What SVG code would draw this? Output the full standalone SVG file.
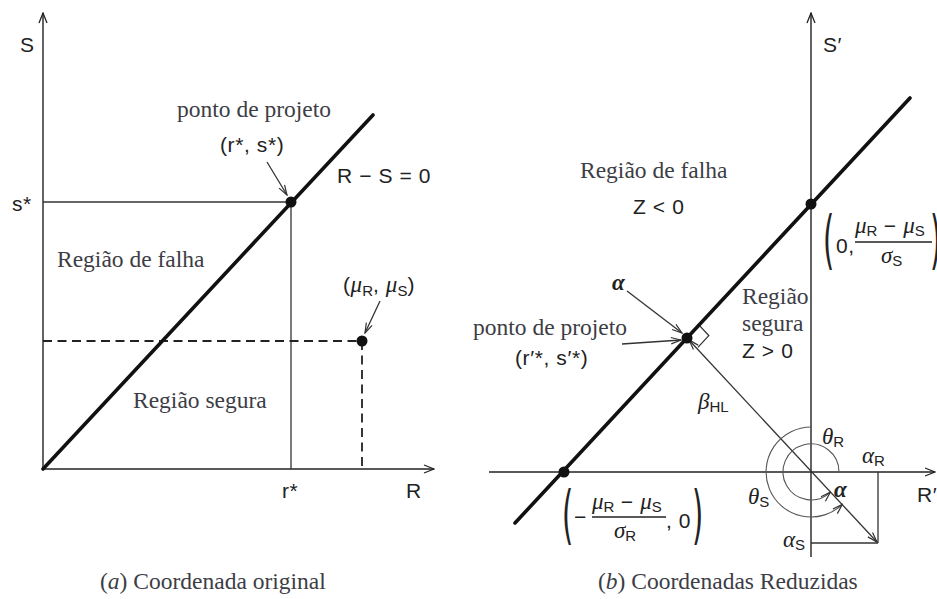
<svg xmlns="http://www.w3.org/2000/svg" width="937" height="599" viewBox="0 0 937 599">
<defs>
<marker id="axArrow" viewBox="0 0 12 10" refX="11" refY="5" markerWidth="12" markerHeight="10" orient="auto" markerUnits="userSpaceOnUse"><path d="M1,1 L11,5 L1,9" fill="none" stroke="#222" stroke-width="1.3"/></marker>
<marker id="ptr" viewBox="0 0 12 8" refX="11" refY="4" markerWidth="12" markerHeight="8" orient="auto" markerUnits="userSpaceOnUse"><path d="M1,0.8 L11,4 L1,7.2" fill="none" stroke="#333" stroke-width="1.2"/></marker>
<marker id="ptrStart" viewBox="0 0 12 8" refX="1" refY="4" markerWidth="12" markerHeight="8" orient="auto" markerUnits="userSpaceOnUse"><path d="M11,0.8 L1,4 L11,7.2" fill="none" stroke="#333" stroke-width="1.2"/></marker>
</defs>
<style>
.axis{stroke:#222;stroke-width:1.4;fill:none}
.thick{stroke:#111;stroke-width:3.6;fill:none;stroke-linecap:round}
.thin{stroke:#333;stroke-width:1.3;fill:none}
.dash{stroke:#222;stroke-width:1.8;fill:none;stroke-dasharray:9 5.5}
.arc{stroke:#555;stroke-width:1.1;fill:none}
.dot{fill:#111}
.serif{font-family:"Liberation Serif","Times New Roman",serif;font-size:23.5px;fill:#3d3d45}
.sans{font-family:"Liberation Sans",Arial,sans-serif;font-size:21px;letter-spacing:0.6px;fill:#222}
.greek{font-family:"Liberation Serif","Times New Roman",serif;font-style:italic;font-size:23px;letter-spacing:0;fill:#222}
.sub{font-family:"Liberation Sans",Arial,sans-serif;font-size:15px;letter-spacing:0;fill:#222}
.paren{font-family:"DejaVu Sans",sans-serif;font-size:64px;fill:#222}
.cap{font-family:"Liberation Serif","Times New Roman",serif;font-size:23.5px;fill:#3d3d45}
</style>

<!-- ============ Panel (a) ============ -->
<g id="panel-a-axes">
  <line class="axis" x1="43" y1="469" x2="43" y2="13" marker-end="url(#axArrow)"/>
  <line class="axis" x1="43" y1="469" x2="434" y2="469" marker-end="url(#axArrow)"/>
  <text class="sans" x="20" y="52">S</text>
  <text class="sans" x="406" y="498">R</text>
</g>
<g id="panel-a-connectors">
  <line class="thin" x1="43" y1="202" x2="291" y2="202"/>
  <line class="thin" x1="291" y1="202" x2="291" y2="469"/>
  <line class="dash" x1="43" y1="341" x2="362" y2="341"/>
  <line class="dash" x1="362" y1="341" x2="362" y2="469"/>
  <line class="thin" x1="267" y1="162" x2="287" y2="195" marker-end="url(#ptr)"/>
  <line class="thin" x1="380" y1="301" x2="365" y2="333" marker-end="url(#ptr)"/>
</g>
<g id="panel-a-limit-state">
  <line class="thick" x1="43" y1="469" x2="373" y2="115"/>
  <text class="sans" x="337" y="183">R − S = 0</text>
</g>
<g id="panel-a-design-point">
  <circle class="dot" cx="291" cy="202" r="5.5"/>
  <text class="serif" x="177" y="117">ponto de projeto</text>
  <text class="sans" x="220" y="152">(r*, s*)</text>
</g>
<g id="panel-a-mean-point">
  <circle class="dot" cx="362" cy="341" r="5.5"/>
  <text class="sans" x="343" y="292">(<tspan class="greek">μ</tspan><tspan class="sub" dy="4">R</tspan><tspan dy="-4">, </tspan><tspan class="greek">μ</tspan><tspan class="sub" dy="4">S</tspan><tspan dy="-4">)</tspan></text>
</g>
<g id="panel-a-ticks">
  <text class="sans" x="12" y="211">s*</text>
  <text class="sans" x="282" y="498">r*</text>
</g>
<g id="panel-a-regions">
  <text class="serif" x="57" y="267">Região de falha</text>
  <text class="serif" x="133" y="408">Região segura</text>
</g>
<g id="caption-a">
  <text class="cap" x="100" y="589">(<tspan font-style="italic">a</tspan>) Coordenada original</text>
</g>

<!-- ============ Panel (b) ============ -->
<g id="panel-b-axes">
  <line class="axis" x1="811" y1="557" x2="811" y2="13" marker-end="url(#axArrow)"/>
  <line class="axis" x1="489" y1="472" x2="935" y2="472" marker-end="url(#axArrow)"/>
  <text class="sans" x="823" y="52">S′</text>
  <text class="sans" x="917" y="502">R′</text>
</g>
<g id="panel-b-connectors">
  <line class="thin" x1="689" y1="340" x2="877" y2="542" stroke-width="1.6" marker-end="url(#ptr)" marker-start="url(#ptrStart)"/>
  <line class="thin" x1="878" y1="472" x2="878" y2="543"/>
  <line class="thin" x1="811" y1="543" x2="878" y2="543"/>
  <path class="thin" d="M697.9,323.9 L708.8,335.6 L697.9,347.4"/>
  <line class="thin" x1="627" y1="291" x2="682" y2="333" marker-end="url(#ptr)"/>
  <line class="thin" x1="622" y1="344" x2="681" y2="340" marker-end="url(#ptr)"/>
  <path class="arc" d="M811,427 A45,45 0 1 0 842.3,504.4" marker-end="url(#ptr)"/>
  <path class="arc" d="M839,472 A28,28 0 1 0 830.4,492.1" marker-end="url(#ptr)"/>
</g>
<g id="panel-b-limit-state">
  <line class="thick" x1="515" y1="523" x2="910" y2="98"/>
  <circle class="dot" cx="564" cy="472" r="5.5"/>
  <circle class="dot" cx="811" cy="204" r="5.5"/>
</g>
<g id="panel-b-design-point">
  <circle class="dot" cx="687" cy="338" r="5.5"/>
  <text class="serif" x="473" y="335">ponto de projeto</text>
  <text class="sans" x="515" y="365">(r′*, s′*)</text>
  <text class="greek" x="612" y="290" font-weight="bold">α</text>
</g>
<g id="panel-b-regions">
  <text class="serif" x="580" y="178">Região de falha</text>
  <text class="sans" x="633" y="214">Z &lt; 0</text>
  <text class="serif" x="742" y="304">Região</text>
  <text class="serif" x="742" y="331">segura</text>
  <text class="sans" x="742" y="358">Z &gt; 0</text>
</g>
<g id="panel-b-intercept-s">
  <text class="paren" transform="translate(823,262) scale(0.45,1)">(</text>
  <text class="sans" x="836" y="253">0,</text>
  <text x="855" y="233"><tspan class="greek">μ</tspan><tspan class="sub" dy="3">R</tspan><tspan class="sans" dy="-3"> − </tspan><tspan class="greek">μ</tspan><tspan class="sub" dy="3">S</tspan></text>
  <line x1="855" y1="242" x2="932" y2="242" stroke="#222" stroke-width="1.4"/>
  <text x="881" y="263"><tspan class="greek">σ</tspan><tspan class="sub" dy="3">S</tspan></text>
  <text class="paren" transform="translate(930,262) scale(0.45,1)">)</text>
</g>
<g id="panel-b-intercept-r">
  <text class="paren" transform="translate(562,537) scale(0.45,1)">(</text>
  <text class="sans" x="574" y="524">−</text>
  <text x="592" y="509"><tspan class="greek">μ</tspan><tspan class="sub" dy="3">R</tspan><tspan class="sans" dy="-3"> − </tspan><tspan class="greek">μ</tspan><tspan class="sub" dy="3">S</tspan></text>
  <line x1="592" y1="517" x2="666" y2="517" stroke="#222" stroke-width="1.4"/>
  <text x="614" y="538"><tspan class="greek">σ</tspan><tspan class="sub" dy="3">R</tspan></text>
  <text class="sans" x="666" y="528">, 0</text>
  <text class="paren" transform="translate(692,537) scale(0.45,1)">)</text>
</g>
<g id="panel-b-vector-labels">
  <text x="698" y="409"><tspan class="greek">β</tspan><tspan class="sub" dy="3">HL</tspan></text>
  <text x="822" y="444"><tspan class="greek">θ</tspan><tspan class="sub" dy="3">R</tspan></text>
  <text x="748" y="504"><tspan class="greek">θ</tspan><tspan class="sub" dy="3">S</tspan></text>
  <text x="862" y="463"><tspan class="greek">α</tspan><tspan class="sub" dy="3">R</tspan></text>
  <text x="783" y="547"><tspan class="greek">α</tspan><tspan class="sub" dy="3">S</tspan></text>
  <text class="greek" x="834" y="497" font-weight="bold">α</text>
</g>
<g id="caption-b">
  <text class="cap" x="598" y="589">(<tspan font-style="italic">b</tspan>) Coordenadas Reduzidas</text>
</g>
</svg>
